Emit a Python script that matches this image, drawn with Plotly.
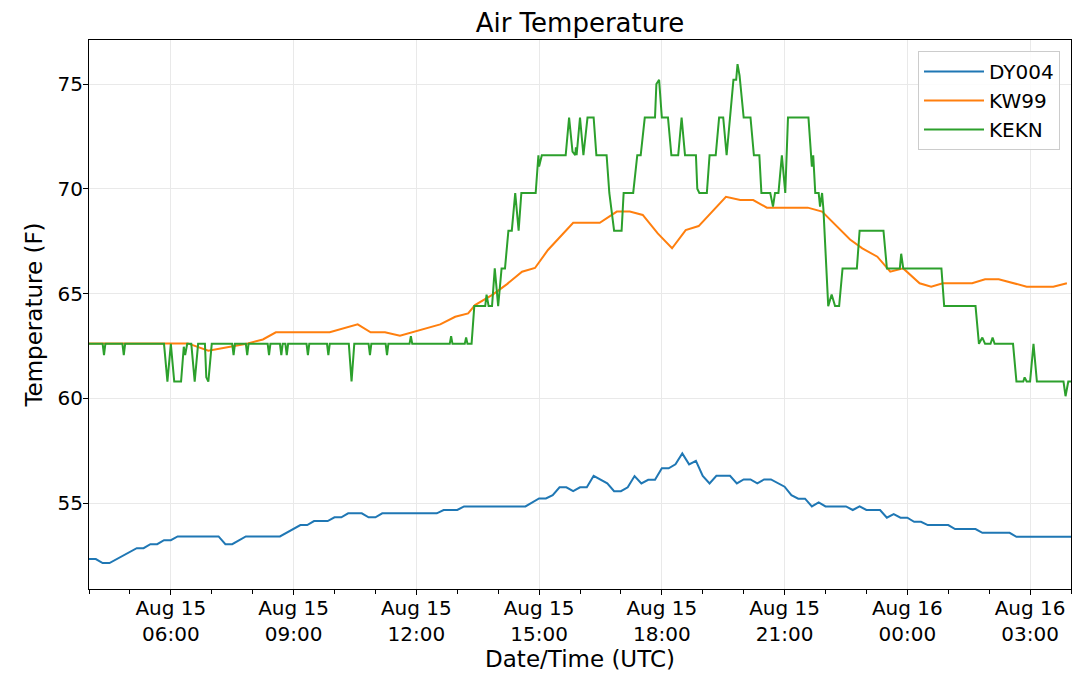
"""
Air Temperature - 3개 관측소 (DY004, KW99, KEKN) 시계열 비교 차트
"""
import pandas as pd
import plotly.graph_objects as go

DAY = "2019-08-"

# DY004 (10분 간격)
dy004_times = [
    "15 04:00", "15 04:10", "15 04:20", "15 04:30", "15 05:10", "15 05:20", "15 05:30", "15 05:40",
    "15 05:50", "15 06:00", "15 06:10", "15 07:10", "15 07:20", "15 07:30", "15 07:50", "15 08:40",
    "15 09:10", "15 09:20", "15 09:30", "15 09:50", "15 10:00", "15 10:10", "15 10:20", "15 10:40",
    "15 10:50", "15 11:00", "15 11:10", "15 12:30", "15 12:40", "15 13:00", "15 13:10", "15 14:40",
    "15 15:00", "15 15:10", "15 15:20", "15 15:30", "15 15:40", "15 15:50", "15 16:00", "15 16:10",
    "15 16:20", "15 16:30", "15 16:40", "15 16:50", "15 17:00", "15 17:10", "15 17:20", "15 17:30",
    "15 17:40", "15 17:50", "15 18:00", "15 18:10", "15 18:20", "15 18:30", "15 18:40", "15 18:50",
    "15 19:00", "15 19:10", "15 19:20", "15 19:40", "15 19:50", "15 20:00", "15 20:10", "15 20:20",
    "15 20:30", "15 20:40", "15 20:50", "15 21:00", "15 21:10", "15 21:20", "15 21:30", "15 21:40",
    "15 21:50", "15 22:00", "15 22:30", "15 22:40", "15 22:50", "15 23:00", "15 23:20", "15 23:30",
    "15 23:40", "15 23:50", "16 00:00", "16 00:10", "16 00:20", "16 00:30", "16 01:00", "16 01:10",
    "16 01:40", "16 01:50", "16 02:30", "16 02:40", "16 04:00",
]
dy004_vals = [
    52.33, 52.33, 52.14, 52.14, 52.85, 52.85, 53.04, 53.04,
    53.23, 53.23, 53.41, 53.41, 53.04, 53.04, 53.41, 53.41,
    53.95, 53.95, 54.14, 54.14, 54.32, 54.32, 54.51, 54.51,
    54.32, 54.32, 54.51, 54.51, 54.67, 54.67, 54.84, 54.84,
    55.22, 55.22, 55.38, 55.75, 55.75, 55.57, 55.75, 55.75,
    56.30, 56.13, 55.94, 55.57, 55.57, 55.75, 56.29, 55.94,
    56.11, 56.11, 56.66, 56.66, 56.85, 57.37, 56.85, 57.02,
    56.30, 55.94, 56.30, 56.30, 55.94, 56.13, 56.13, 55.94,
    56.13, 56.13, 55.94, 55.78, 55.38, 55.21, 55.21, 54.84,
    55.03, 54.84, 54.84, 54.67, 54.84, 54.67, 54.67, 54.30,
    54.47, 54.30, 54.30, 54.11, 54.11, 53.95, 53.95, 53.76,
    53.76, 53.58, 53.58, 53.39, 53.39,
]

# KW99 (약 20분 간격)
kw99_times = [
    "15 04:00", "15 06:25", "15 06:55", "15 07:53", "15 08:15", "15 08:34", "15 09:53", "15 10:34",
    "15 10:53", "15 11:14", "15 11:36", "15 12:35", "15 12:57", "15 13:16", "15 13:26", "15 13:52",
    "15 14:13", "15 14:35", "15 14:54", "15 15:13", "15 15:50", "15 16:29", "15 16:54", "15 17:13",
    "15 17:32", "15 17:54", "15 18:15", "15 18:35", "15 18:54", "15 19:34", "15 19:55", "15 20:14",
    "15 20:34", "15 21:34", "15 21:55", "15 22:36", "15 22:54", "15 23:16", "15 23:35", "15 23:54",
    "16 00:18", "16 00:35", "16 00:52", "16 01:35", "16 01:54", "16 02:14", "16 02:55", "16 03:34",
    "16 03:54",
]
kw99_vals = [
    62.62, 62.62, 62.27, 62.62, 62.81, 63.15, 63.15, 63.53,
    63.15, 63.15, 62.99, 63.53, 63.89, 64.05, 64.45, 64.95,
    65.45, 66.04, 66.22, 67.08, 68.38, 68.38, 68.91, 68.91,
    68.75, 67.87, 67.16, 68.03, 68.22, 69.62, 69.46, 69.46,
    69.10, 69.10, 68.91, 67.58, 67.16, 66.76, 66.04, 66.20,
    65.49, 65.33, 65.49, 65.49, 65.68, 65.68, 65.33, 65.33,
    65.49,
]

# KEKN (METAR, 불규칙 간격)
kekn_times = [
    "15 04:00", "15 04:20", "15 04:22", "15 04:24", "15 04:49", "15 04:51", "15 04:53",
    "15 05:50", "15 05:55", "15 06:00", "15 06:05", "15 06:15", "15 06:19", "15 06:21", "15 06:24",
    "15 06:30", "15 06:35", "15 06:40", "15 06:50", "15 06:52", "15 06:55", "15 07:00",
    "15 07:30", "15 07:32", "15 07:34", "15 07:50", "15 07:52", "15 07:54",
    "15 08:22", "15 08:24", "15 08:26", "15 08:40", "15 08:42", "15 08:44", "15 08:48", "15 08:50", "15 08:52",
    "15 09:19", "15 09:21", "15 09:23", "15 09:49", "15 09:51", "15 09:53",
    "15 10:21", "15 10:25", "15 10:29", "15 10:50", "15 10:52", "15 10:54", "15 11:15", "15 11:17", "15 11:19",
    "15 11:50", "15 11:52", "15 11:54", "15 12:49", "15 12:51", "15 12:53", "15 13:11", "15 13:13", "15 13:15",
    "15 13:21", "15 13:25", "15 13:41", "15 13:43", "15 13:46", "15 13:51", "15 13:55", "15 14:00",
    "15 14:05", "15 14:10", "15 14:15", "15 14:20", "15 14:25", "15 14:30", "15 14:34", "15 14:51",
    "15 14:55", "15 14:59", "15 15:00", "15 15:04", "15 15:39", "15 15:44", "15 15:49", "15 15:53",
    "15 15:54", "15 15:55", "15 16:00", "15 16:05", "15 16:11", "15 16:20", "15 16:24", "15 16:39",
    "15 16:43", "15 16:50", "15 17:01", "15 17:04", "15 17:18", "15 17:24", "15 17:29", "15 17:35",
    "15 17:50", "15 17:52", "15 17:56", "15 18:00", "15 18:09", "15 18:14", "15 18:24", "15 18:29",
    "15 18:34", "15 18:50", "15 18:52", "15 18:55", "15 19:06", "15 19:10", "15 19:19", "15 19:24",
    "15 19:30", "15 19:35", "15 19:45", "15 19:49", "15 19:51", "15 19:54", "15 20:00", "15 20:10",
    "15 20:15", "15 20:23", "15 20:26", "15 20:39", "15 20:43", "15 20:46", "15 20:51", "15 20:56",
    "15 21:01", "15 21:05", "15 21:35", "15 21:40", "15 21:42", "15 21:45", "15 21:50", "15 21:52",
    "15 21:55", "15 21:57", "15 22:04", "15 22:09", "15 22:14", "15 22:20", "15 22:25", "15 22:46",
    "15 22:50", "15 23:25", "15 23:30", "15 23:49", "15 23:51", "15 23:54",
    "16 00:50", "16 00:54", "16 01:40", "16 01:45", "16 01:50", "16 01:54", "16 02:02", "16 02:05",
    "16 02:08", "16 02:35", "16 02:40", "16 02:50", "16 02:52", "16 02:55", "16 03:00", "16 03:05",
    "16 03:10", "16 03:49", "16 03:52", "16 03:56", "16 04:00",
]
kekn_vals = [
    62.6, 62.6, 62.06, 62.6, 62.6, 62.06, 62.6,
    62.6, 60.8, 62.6, 60.8, 60.8, 62.46, 62.06, 62.6,
    62.6, 60.8, 62.6, 62.6, 61.0, 60.8, 62.6,
    62.6, 62.06, 62.6, 62.6, 62.06, 62.6,
    62.6, 62.06, 62.6, 62.6, 62.06, 62.6, 62.6, 62.06, 62.6,
    62.6, 62.06, 62.6, 62.6, 62.06, 62.6,
    62.6, 60.8, 62.6, 62.6, 62.06, 62.6, 62.6, 62.06, 62.6,
    62.6, 62.97, 62.6, 62.6, 62.97, 62.6, 62.6, 62.9, 62.6,
    62.6, 64.4, 64.4, 64.95, 64.4, 64.4, 66.2, 64.4,
    66.2, 66.2, 68.0, 68.0, 69.8, 68.0, 69.8, 69.8,
    69.8, 71.6, 71.06, 71.6, 71.6, 73.4, 71.77, 71.6,
    71.98, 71.6, 73.4, 71.6, 73.4, 73.4, 71.6, 71.6,
    69.8, 68.0, 68.0, 69.8, 69.8, 71.6, 71.6, 73.4,
    73.4, 75.0, 75.2, 73.4, 73.4, 71.6, 71.6, 73.4,
    71.6, 71.6, 70.0, 69.8, 69.8, 71.6, 71.6, 73.4,
    73.4, 71.6, 75.2, 75.2, 75.95, 75.4, 73.4, 73.4,
    71.6, 71.6, 69.8, 69.8, 69.15, 69.8, 69.8, 71.6,
    69.8, 73.4, 73.4, 71.06, 71.6, 69.8, 69.8, 69.15,
    69.8, 69.0, 64.4, 64.95, 64.4, 64.4, 66.2, 66.2,
    68.0, 68.0, 66.2, 66.2, 66.9, 66.2,
    66.2, 64.4, 64.4, 62.6, 62.9, 62.6, 62.6, 62.9,
    62.6, 62.6, 60.8, 60.8, 61.0, 60.8, 60.8, 62.6,
    60.8, 60.8, 60.1, 60.8, 60.8,
]

x_range = ["15 04:00", "16 04:00"]
x_tick_times = ["15 06:00", "15 09:00", "15 12:00", "15 15:00", "15 18:00", "15 21:00", "16 00:00", "16 03:00"]
x_tick_labels = ["Aug 15<br>06:00", "Aug 15<br>09:00", "Aug 15<br>12:00", "Aug 15<br>15:00",
                 "Aug 15<br>18:00", "Aug 15<br>21:00", "Aug 16<br>00:00", "Aug 16<br>03:00"]
y_ticks = [55, 60, 65, 70, 75]
y_range = [50.9, 77.1]


def to_dt(items):
    return pd.to_datetime([DAY + s for s in items])


FONT = "DejaVu Sans"
GRID = "#e9e9e9"
# 브라우저 body 기본 여백(8px)을 감안한 크기
W, H = 1072, 676

fig = go.Figure()
series = [
    ("DY004", dy004_times, dy004_vals, "#1f77b4"),
    ("KW99", kw99_times, kw99_vals, "#ff7f0e"),
    ("KEKN", kekn_times, kekn_vals, "#2ca02c"),
]
for name, times, vals, color in series:
    fig.add_trace(go.Scatter(x=to_dt(times), y=vals, mode="lines", name=name,
                             line=dict(color=color, width=2)))

axis_common = dict(
    showline=True, linecolor="black", linewidth=1, mirror=True,
    ticks="outside", ticklen=5, tickcolor="black", tickwidth=1,
    showgrid=True, gridcolor=GRID, gridwidth=1, zeroline=False, automargin=False,
    tickfont=dict(family=FONT, size=20, color="black"),
)

fig.update_xaxes(
    **axis_common,
    type="date",
    range=list(to_dt(x_range)),
    tickmode="array",
    tickvals=list(to_dt(x_tick_times)),
    ticktext=x_tick_labels,
    ticklabelstandoff=-4,
    minor=dict(tickmode="linear", dtick=3600000, tick0=to_dt(["15 04:00"])[0],
               ticks="outside", ticklen=4, tickcolor="black", showgrid=False),
    title=dict(text="Date/Time (UTC)", font=dict(family=FONT, size=23, color="black"), standoff=4),
)
fig.update_yaxes(
    **axis_common,
    range=y_range,
    tickmode="array",
    tickvals=y_ticks,
    ticklabelstandoff=-4,
    title=dict(text="Temperature (F)", font=dict(family=FONT, size=23, color="black"), standoff=8),
)

fig.update_layout(
    width=W, height=H,
    margin=dict(l=81, r=9, t=32, b=95),
    plot_bgcolor="white", paper_bgcolor="white",
    font=dict(family=FONT, color="black"),
    title=dict(text="Air Temperature", x=0.5, xanchor="center", xref="paper",
               y=1 - 15 / H, yanchor="middle", yref="container",
               font=dict(family=FONT, size=26, color="black")),
    showlegend=True,
    legend=dict(x=0.9888, xanchor="right", y=0.98, yanchor="top", itemwidth=60,
                bgcolor="rgba(255,255,255,0.85)", bordercolor="#cccccc", borderwidth=1,
                font=dict(family=FONT, size=20, color="black")),
)

fig.write_html("out.html")
